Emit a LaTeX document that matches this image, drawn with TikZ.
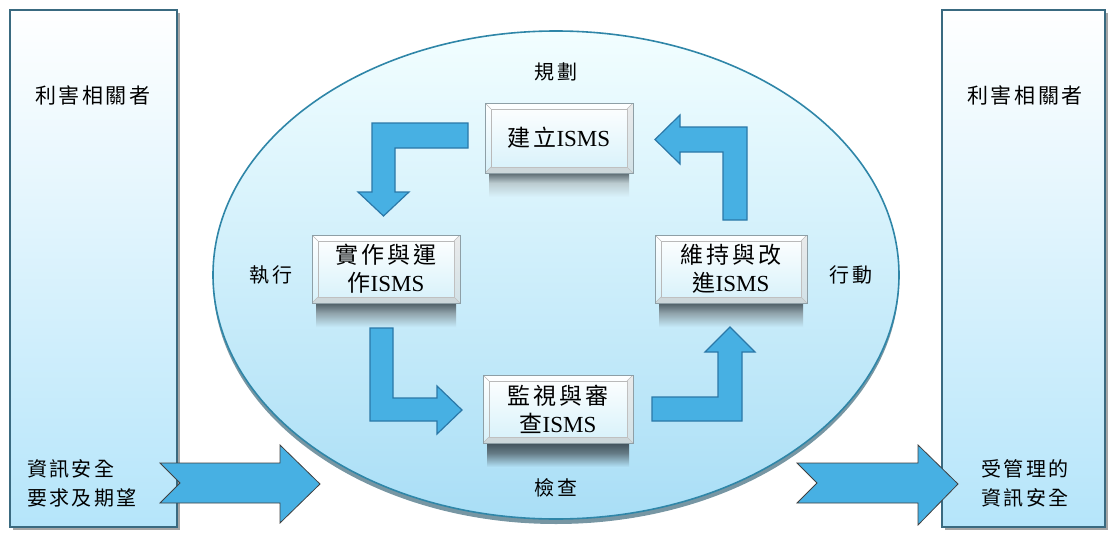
\documentclass[tikz,border=0pt]{standalone}
\usepackage{fontspec}
\setmainfont{Liberation Serif}
\newfontfamily\cjk[LetterSpace=12]{Noto Sans CJK TC}
\usetikzlibrary{shadows,shapes.geometric}
\definecolor{barborder}{HTML}{3A6A80}
\definecolor{barbottom}{HTML}{B5E5FA}
\definecolor{elltop}{HTML}{F2FEFF}
\definecolor{ellbottom}{HTML}{A9DEF6}
\definecolor{ellborder}{HTML}{2F86A8}
\definecolor{arrowfill}{HTML}{47B0E3}
\definecolor{arrowline}{HTML}{2B78A8}
\definecolor{boxbottom}{HTML}{D6F1FA}
\definecolor{boxline}{HTML}{8E9FA6}
\definecolor{shadedark}{HTML}{34424A}
\tikzset{
  sidebar/.style={draw=barborder, line width=1.4pt, top color=white, bottom color=barbottom,
    drop shadow={shadow xshift=3pt, shadow yshift=-3pt, opacity=0.5, fill=black!70}},
  cycleell/.style={draw=ellborder, line width=1.6pt, top color=elltop, bottom color=ellbottom,
    drop shadow={shadow xshift=0pt, shadow yshift=-5pt, opacity=0.6, fill=ellborder!60!black}},
  stepbox/.style={draw=boxline, line width=1pt, top color=white, bottom color=boxbottom,
    align=center, inner sep=2pt, font=\fontsize{23}{28}\selectfont,
    path picture={
      \draw[gray!55, line width=0.8pt]
        ([shift={(6pt,-6pt)}]path picture bounding box.north west) rectangle
        ([shift={(-6pt,6pt)}]path picture bounding box.south east);
      \draw[gray!55, line width=0.6pt]
        (path picture bounding box.north west) -- ++(6pt,-6pt)
        (path picture bounding box.north east) -- ++(-6pt,-6pt)
        (path picture bounding box.south west) -- ++(6pt,6pt)
        (path picture bounding box.south east) -- ++(-6pt,6pt);
      \fill[gray!45, opacity=0.6]
        (path picture bounding box.south west) -- ++(6pt,6pt) -| ([shift={(-6pt,6pt)}]path picture bounding box.south east)
        -- (path picture bounding box.south east) -- cycle;
      \fill[gray!40, opacity=0.4]
        (path picture bounding box.south east) -- ++(-6pt,6pt) |- ([shift={(-6pt,-6pt)}]path picture bounding box.north east)
        -- (path picture bounding box.north east) -- cycle;
    }},
  bentarrow/.style={draw=arrowline, line width=1.2pt, fill=arrowfill, line join=miter},
  bigarrow/.style={draw=black!75, line width=0.8pt, fill=arrowfill, line join=miter},
  lbl/.style={font=\cjk\fontsize{20}{29}\selectfont, inner sep=0pt}
}
% soft shadow under a box: left, bottom, right edges, background mix percentage
\newcommand\boxshade[4]{%
  \shade[top color=shadedark, bottom color=ellbottom!#4!elltop, middle color=shadedark!75!ellbottom!#4!elltop]
    (#1+4, #2-4) rectangle (#3-4, #2+24);
}
\begin{document}
\begin{tikzpicture}[x=1pt, y=-1pt]
\useasboundingbox (0,0) rectangle (1109,541);
% side bars
\draw[sidebar] (10,10) rectangle (177,527);
\draw[sidebar] (942,10) rectangle (1105,527);
% ellipse
\node[cycleell, ellipse, minimum width=686pt, minimum height=488pt, inner sep=0pt] (cyc) at (556,275) {};
\node[lbl] (plan) at (556,72) {規劃};
\node[lbl] (do) at (271,275) {執行};
\node[lbl] (act) at (851,275) {行動};
\node[lbl] (check) at (556,488) {檢查};
% soft shadows of the step boxes
\boxshade{485}{173}{633}{34}
\boxshade{312}{303}{460}{61}
\boxshade{655}{303}{807}{61}
\boxshade{483}{443}{633}{88}
% step boxes
\node[stepbox, minimum width=148pt, minimum height=70pt] (est) at (559,138) {{\cjk 建立}ISMS};
\node[stepbox, minimum width=148pt, minimum height=68pt] (imp) at (386,269) {{\cjk 實作與運}\\{\cjk 作}ISMS};
\node[stepbox, minimum width=152pt, minimum height=68pt] (mai) at (731,269) {{\cjk 維持與改}\\{\cjk 進}ISMS};
\node[stepbox, minimum width=150pt, minimum height=68pt] (mon) at (558,409) {{\cjk 監視與審}\\{\cjk 查}ISMS};
% bent arrows
\draw[bentarrow] (468,123) -- (372,123) -- (372,192) -- (358,192) -- (383.5,216) -- (409,192) -- (395,192) -- (395,148) -- (468,148) -- cycle;
\draw[bentarrow] (370,328) -- (393,328) -- (393,398) -- (437,398) -- (437,386) -- (462,410) -- (437,434) -- (437,421) -- (370,421) -- cycle;
\draw[bentarrow] (652,397) -- (718,397) -- (718,352) -- (705,352) -- (730,327) -- (755,352) -- (742,352) -- (742,421) -- (652,421) -- cycle;
\draw[bentarrow] (747,220) -- (723,220) -- (723,152) -- (680,152) -- (680,164) -- (655,139.5) -- (680,115) -- (680,127) -- (747,127) -- cycle;
% big arrows
\draw[bigarrow] (160,463) -- (280,463) -- (280,445) -- (320,484) -- (280,523) -- (280,503) -- (160,503) -- (180,483) -- cycle;
\draw[bigarrow] (797,463) -- (918,463) -- (918,445) -- (958,484) -- (918,525) -- (918,503) -- (797,503) -- (817,483) -- cycle;
% side bar texts
\node[lbl, font=\cjk\fontsize{21}{29}\selectfont] (stakeL) at (93,95) {利害相關者};
\node[lbl, font=\cjk\fontsize{21}{29}\selectfont] (stakeR) at (1025,95) {利害相關者};
\node[lbl, anchor=west, align=left] (req) at (27,483) {資訊安全\\要求及期望};
\node[lbl, align=center] (managed) at (1025,483) {受管理的\\資訊安全};
\end{tikzpicture}
\end{document}
